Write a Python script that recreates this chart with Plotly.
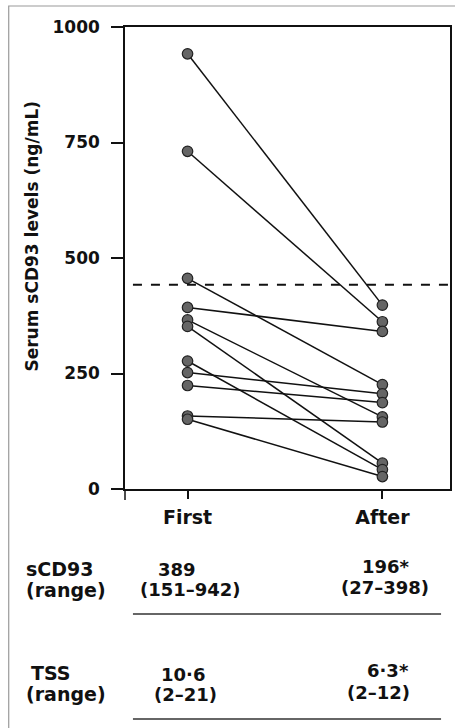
import plotly.graph_objects as go

# ---- data ----
groups = ["First", "After"]
first_vals = [942, 731, 456, 393, 366, 352, 277, 252, 224, 158, 151]
after_vals = [398, 362, 226, 341, 156, 56, 42, 206, 187, 145, 27]
cutoff = 442
y_ticks = [0, 250, 500, 750, 1000]
y_title = "Serum sCD93 levels (ng/mL)"
row_labels = [["sCD93", "(range)"], ["TSS", "(range)"]]
first_col = [["389", "(151–942)"], ["10·6", "(2–21)"]]
after_col = [["196*", "(27–398)"], ["6·3*", "(2–12)"]]

# ---- layout constants (pixels) ----
W, H = 455, 728
L, R, T, B = 125, 3, 27, 239
PW, PH = W - L - R, H - T - B

def px(xp):
    return (xp - L) / PW

def py(yp):
    return (H - B - yp) / PH

WORD_FONT = dict(family="DejaVu Sans", size=19, color="#111")
NUM_FONT = dict(family="DejaVu Sans", size=17, color="#111")
TAB_FONT = dict(family="DejaVu Sans", size=18, color="#111")

fig = go.Figure()

for a, b in zip(first_vals, after_vals):
    fig.add_trace(go.Scatter(
        x=[0, 1], y=[a, b], mode="lines+markers",
        line=dict(color="#111", width=1.5),
        marker=dict(size=10.5, color="#656565", line=dict(color="#222", width=1.2)),
        showlegend=False, hoverinfo="y", cliponaxis=False,
    ))

shapes = [
    # cutoff dashed line
    dict(type="line", xref="paper", yref="y", x0=px(133), x1=1, y0=cutoff, y1=cutoff,
         line=dict(color="#111", width=2, dash="dash")),
    # y axis extension below x axis
    dict(type="line", xref="paper", yref="paper", x0=0, x1=0, y0=0, y1=py(500),
         line=dict(color="#111", width=1.5)),
    # underlines of table
    dict(type="line", xref="paper", yref="paper", x0=px(133), x1=px(443), y0=py(614), y1=py(614),
         line=dict(color="#333", width=1.3)),
    dict(type="line", xref="paper", yref="paper", x0=px(133), x1=px(443), y0=py(719), y1=py(719),
         line=dict(color="#333", width=1.3)),
    # outer frame
    dict(type="rect", xref="paper", yref="paper", x0=px(8), x1=px(470), y0=py(6), y1=py(745),
         line=dict(color="#9a9a9a", width=1.2)),
]

annotations = []
# y axis title
annotations.append(dict(text="<b>" + y_title + "</b>", xref="paper", yref="paper",
                        x=px(31), y=py(236), xanchor="center", yanchor="middle",
                        textangle=-90, showarrow=False,
                        font=dict(family="DejaVu Sans", size=17, color="#111")))

label_pos = [[(23, 569), (23, 590)], [(28, 673), (23, 694)]]
first_pos = [[(177, 569), (191, 589)], [(183, 674), (186, 694)]]
after_pos = [[(388, 566), (387, 587)], [(390, 670), (380, 692)]]

for r in range(2):
    for k in range(2):
        xp, yp = label_pos[r][k]
        annotations.append(dict(text="<b>" + row_labels[r][k] + "</b>", xref="paper", yref="paper",
                                x=px(xp), y=py(yp), xanchor="left", yanchor="middle",
                                showarrow=False, font=WORD_FONT))
        xp, yp = first_pos[r][k]
        annotations.append(dict(text="<b>" + first_col[r][k] + "</b>", xref="paper", yref="paper",
                                x=px(xp), y=py(yp), xanchor="center", yanchor="middle",
                                showarrow=False, font=TAB_FONT))
        xp, yp = after_pos[r][k]
        annotations.append(dict(text="<b>" + after_col[r][k] + "</b>", xref="paper", yref="paper",
                                x=px(xp), y=py(yp), xanchor="center", yanchor="middle",
                                showarrow=False, font=TAB_FONT))

fig.update_layout(
    width=W, height=H,
    margin=dict(l=L, r=R, t=T, b=B, pad=0),
    paper_bgcolor="white", plot_bgcolor="white",
    shapes=shapes, annotations=annotations,
    xaxis=dict(range=[-0.321, 1.347], tickvals=[0, 1],
               ticktext=["<b>" + g + "</b>" for g in groups],
               showgrid=False, zeroline=False, showline=True, linecolor="#111", linewidth=1.5,
               mirror=True, ticks="outside", ticklen=8, tickwidth=1.5, tickcolor="#111",
               tickfont=WORD_FONT, ticklabelstandoff=2, fixedrange=True),
    yaxis=dict(range=[0, 1000], tickvals=y_ticks, ticktext=["<b>%d</b>" % v for v in y_ticks],
               showgrid=False, zeroline=False, showline=True, linecolor="#111", linewidth=1.5,
               mirror=True, ticks="outside", ticklen=12, tickwidth=1.5, tickcolor="#111",
               tickfont=NUM_FONT, ticklabelstandoff=8, fixedrange=True),
)

fig.write_html("out.html")
